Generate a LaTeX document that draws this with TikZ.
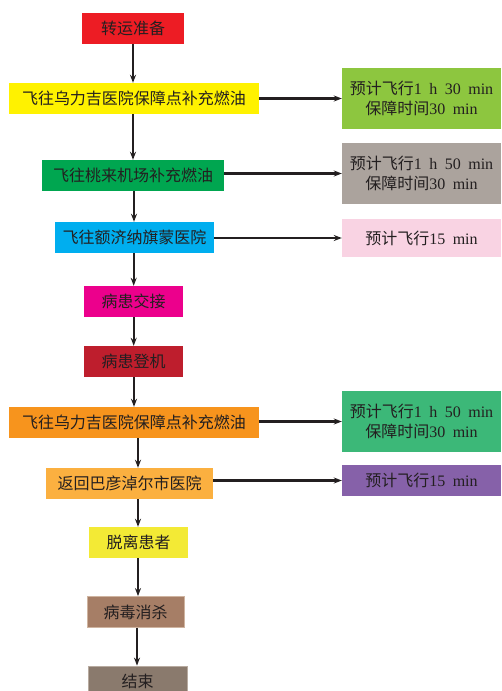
\documentclass[tikz,border=0pt]{standalone}
\usepackage{fontspec}
\setmainfont{Liberation Serif}
\newfontfamily\cjk{Noto Sans CJK SC}
\usetikzlibrary{arrows.meta}
\definecolor{txt}{HTML}{231F20}
\definecolor{cRed}{HTML}{ED1C24}
\definecolor{cYel}{HTML}{FFF200}
\definecolor{cGrn}{HTML}{00A650}
\definecolor{cBlu}{HTML}{00AEEF}
\definecolor{cMag}{HTML}{EC008C}
\definecolor{cDrd}{HTML}{BE1E2D}
\definecolor{cOrg}{HTML}{F7941D}
\definecolor{cLor}{HTML}{FBB040}
\definecolor{cYl2}{HTML}{F3EA35}
\definecolor{cBrn}{HTML}{A67E66}
\definecolor{cBrnB}{HTML}{CFB4A0}
\definecolor{cEnd}{HTML}{8A7A6D}
\definecolor{cEndB}{HTML}{B8ABA0}
\definecolor{cLgr}{HTML}{8DC63F}
\definecolor{cGry}{HTML}{ABA39D}
\definecolor{cPnk}{HTML}{F9D3E3}
\definecolor{cGr3}{HTML}{3CB878}
\definecolor{cPur}{HTML}{8661A9}
\newcommand{\wsp}{\hspace{7.5pt}}
\begin{document}
\begin{tikzpicture}[x=1pt,y=-1pt,
  box/.style={minimum height=31pt, inner sep=0pt, text=txt, font=\cjk\fontsize{16}{18}\selectfont},
  rbox/.style={minimum width=159pt, inner sep=0pt, text=txt, align=center, font=\fontsize{16}{19.5}\selectfont},
  arr/.style={draw=txt, line width=2.1pt, -{Stealth[length=8pt,width=6pt]}}]
\useasboundingbox[fill=white] (0,0) rectangle (501,691);
% left column
\node[box, fill=cRed, minimum width=102pt] (n1) at (133,28.5) {转运准备};
\node[box, fill=cYel, minimum width=250pt] (n2) at (134,98.5) {飞往乌力吉医院保障点补充燃油};
\node[box, fill=cGrn, minimum width=182pt] (n3) at (133,175.5) {飞往桃来机场补充燃油};
\node[box, fill=cBlu, minimum width=159pt] (n4) at (134.5,237.5) {飞往额济纳旗蒙医院};
\node[box, fill=cMag, minimum width=99pt] (n5) at (133.5,301.5) {病患交接};
\node[box, fill=cDrd, minimum width=99pt] (n6) at (133.5,361.5) {病患登机};
\node[box, fill=cOrg, minimum width=250pt] (n7) at (134,422.5) {飞往乌力吉医院保障点补充燃油};
\node[box, fill=cLor, minimum width=167pt] (n8) at (129.5,483.5) {返回巴彦淖尔市医院};
\node[box, fill=cYl2, minimum width=99pt] (n9) at (138.5,542.5) {脱离患者};
\node[box, fill=cBrn, draw=cBrnB, line width=0.8pt, minimum width=97pt] (n10) at (135.5,612) {病毒消杀};
\node[box, fill=cEnd, draw=cEndB, line width=0.8pt, minimum width=99pt] (n11) at (137.5,681.5) {结束};
% right column
\node[rbox, fill=cLgr, minimum height=61pt] (r1) at (421.5,98.5) {{\cjk 预计飞行}1\wsp h\wsp 30\wsp min\\{\cjk 保障时间}30\wsp min};
\node[rbox, fill=cGry, minimum height=61pt] (r2) at (421.5,173.5) {{\cjk 预计飞行}1\wsp h\wsp 50\wsp min\\{\cjk 保障时间}30\wsp min};
\node[rbox, fill=cPnk, minimum height=38pt] (r3) at (421.5,238) {{\cjk 预计飞行}15\wsp min};
\node[rbox, fill=cGr3, minimum height=61pt] (r4) at (421.5,421.5) {{\cjk 预计飞行}1\wsp h\wsp 50\wsp min\\{\cjk 保障时间}30\wsp min};
\node[rbox, fill=cPur, minimum height=31pt] (r5) at (421.5,480.5) {{\cjk 预计飞行}15\wsp min};
% vertical arrows
\draw[arr] (n1.south -| 133,0) -- (n2.north -| 133,0);
\draw[arr] (n2.south -| 133,0) -- (n3.north -| 133,0);
\draw[arr] (n3.south -| 134,0) -- (n4.north -| 134,0);
\draw[arr] (n4.south -| 133.7,0) -- (n5.north -| 133.7,0);
\draw[arr] (n5.south -| 133.7,0) -- (n6.north -| 133.7,0);
\draw[arr] (n6.south -| 134,0) -- (n7.north -| 134,0);
\draw[arr] (n7.south -| 138,0) -- (n8.north -| 138,0);
\draw[arr] (n8.south -| 138,0) -- (n9.north -| 138,0);
\draw[arr] (n9.south -| 138,0) -- (n10.north -| 138,0);
\draw[arr] (n10.south -| 137,0) -- (n11.north -| 137,0);
% horizontal arrows
\draw[arr] (n2.east |- r1.west) -- (r1.west);
\draw[arr] (n3.east |- r2.west) -- (r2.west);
\draw[arr] (n4.east |- r3.west) -- (r3.west);
\draw[arr] (n7.east |- r4.west) -- (r4.west);
\draw[arr] (n8.east |- r5.west) -- (r5.west);
\end{tikzpicture}
\end{document}
